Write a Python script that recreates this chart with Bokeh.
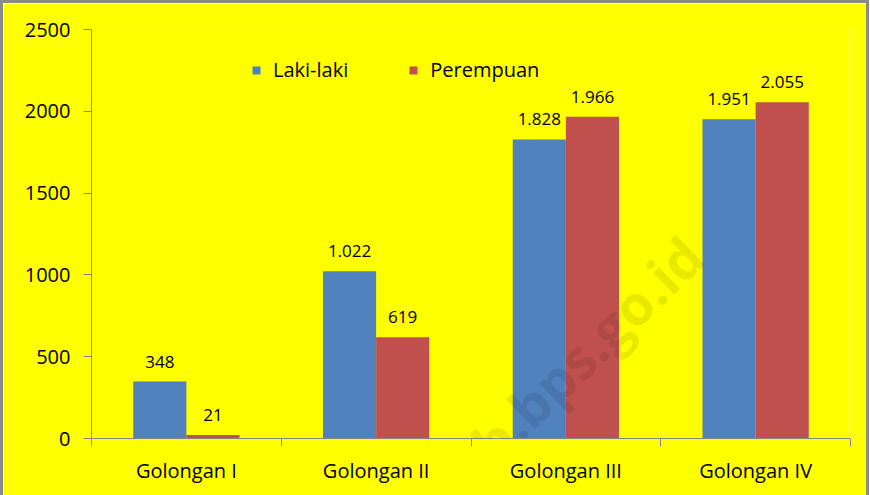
import numpy as np
from bokeh.plotting import figure
from bokeh.models import ColumnDataSource, FixedTicker, Range1d, Legend, LegendItem, Label
from bokeh.core.properties import value
from bokeh.embed import file_html
from bokeh.resources import INLINE

categories = ["Golongan I", "Golongan II", "Golongan III", "Golongan IV"]
laki = [348, 1022, 1828, 1951]
perempuan = [21, 619, 1966, 2055]
laki_labels = ["348", "1.022", "1.828", "1.951"]
perempuan_labels = ["21", "619", "1.966", "2.055"]
y_ticks = [0, 500, 1000, 1500, 2000, 2500]

FONT = "Open Sans"
BLUE = "#4F81BD"
RED = "#C0504D"
YELLOW = "#FFFF00"
GRAY = "#868686"

idx = np.arange(len(categories))
bw = 0.28
src_l = ColumnDataSource(dict(x=idx + 0.5 - bw / 2, top=laki, lab=laki_labels))
src_p = ColumnDataSource(dict(x=idx + 0.5 + bw / 2, top=perempuan, lab=perempuan_labels))

p = figure(width=869, height=495, output_backend="svg", toolbar_location=None,
           x_range=Range1d(0, len(categories)), y_range=Range1d(0, 2500),
           min_border_left=88, min_border_right=22, min_border_top=26, min_border_bottom=60,
           styles={"border-left": "3px solid #8a8a8a", "border-top": "3px solid #8a8a8a",
                   "border-right": "3px solid #8a8a8a"})
p.background_fill_color = YELLOW
p.border_fill_color = YELLOW
p.outline_line_color = None
p.xgrid.visible = False
p.ygrid.visible = False

r1 = p.vbar(x="x", top="top", width=bw, source=src_l, fill_color=BLUE, line_color=None)
r2 = p.vbar(x="x", top="top", width=bw, source=src_p, fill_color=RED, line_color=None)

for src in (src_l, src_p):
    p.text(x="x", y="top", text="lab", source=src, text_align="center",
           text_baseline="alphabetic", y_offset=-20, text_font_size="17px",
           text_font=value(FONT), text_color="#000000")

# axes
xa = p.xaxis[0]
xa.ticker = FixedTicker(ticks=list(idx + 0.5), minor_ticks=list(range(len(categories) + 1)))
xa.major_label_overrides = {float(i + 0.5): c for i, c in enumerate(categories)}
xa.major_tick_line_color = None
xa.minor_tick_line_color = GRAY
xa.minor_tick_out = 8
xa.minor_tick_in = 0
xa.axis_line_color = GRAY
xa.major_label_text_font = FONT
xa.major_label_text_font_size = "20px"
xa.major_label_text_color = "#000000"
xa.major_label_standoff = 10

ya = p.yaxis[0]
ya.ticker = FixedTicker(ticks=y_ticks)
ya.minor_tick_line_color = None
ya.major_tick_line_color = GRAY
ya.major_tick_out = 8
ya.major_tick_in = 0
ya.axis_line_color = GRAY
ya.major_label_text_font = FONT
ya.major_label_text_font_size = "20px"
ya.major_label_text_color = "#000000"
ya.major_label_standoff = 13

legend = Legend(items=[LegendItem(label="Laki-laki", renderers=[r1]),
                       LegendItem(label="Perempuan", renderers=[r2])],
                orientation="horizontal", location=(160, 355),
                background_fill_alpha=0, border_line_color=None,
                glyph_width=10, glyph_height=10, label_standoff=12, spacing=60,
                padding=0, margin=0, label_text_font=FONT, label_text_font_size="20px",
                label_text_color="#000000")
p.add_layout(legend, "center")

wm = Label(x=3.17, y=1175, text="b.bps.go.id", angle=0.77, text_align="right",
           text_baseline="alphabetic", text_font=FONT, text_font_style="bold",
           text_font_size="55px", text_color="#000000", text_alpha=0.085)
p.add_layout(wm)

open("out.html", "w").write(file_html(p, INLINE))
